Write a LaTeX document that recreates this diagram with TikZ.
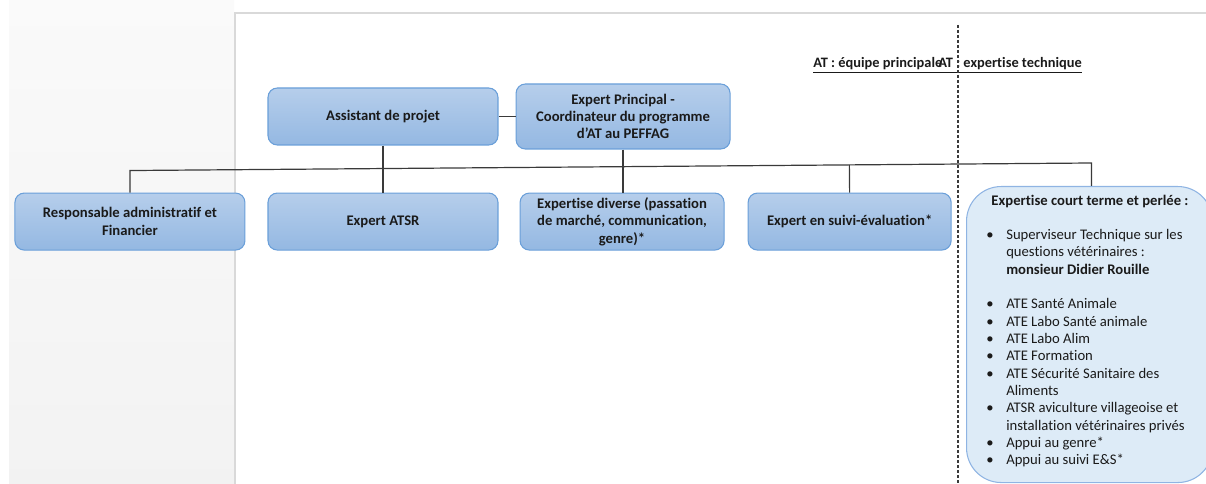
\documentclass[tikz,border=0pt]{standalone}
\usepackage{fontspec}
\setmainfont{Carlito}[Ligatures={TeX,NoCommon}]
\usetikzlibrary{shapes.geometric, calc, positioning}
\definecolor{boxtop}{HTML}{B6CEEB}
\definecolor{boxbottom}{HTML}{94B8E2}
\definecolor{boxline}{HTML}{6A9FD9}
\definecolor{courtfill}{HTML}{DDEBF7}
\definecolor{courtline}{HTML}{8FB4E3}
\definecolor{trait}{HTML}{3A3A3A}
\definecolor{cadre}{HTML}{D9D9D9}
\definecolor{encre}{HTML}{1A1A1A}
\tikzstyle{poste} = [rectangle, rounded corners=7pt, draw=boxline, line width=0.8pt, top color=boxtop, bottom color=boxbottom, minimum width=172.5pt, minimum height=42.75pt, align=center, text=encre, font=\fontsize{11}{13}\selectfont\bfseries]
\tikzstyle{courtbox} = [rectangle, rounded corners=26pt, draw=courtline, line width=0.8pt, fill=courtfill, minimum width=184.5pt, minimum height=222pt]
\tikzstyle{texte} = [inner sep=0pt, text=encre, font=\fontsize{11}{13}\selectfont]
\tikzstyle{titre} = [inner sep=0pt, text=encre, font=\fontsize{10.8}{13}\selectfont\bfseries]
\tikzstyle{lien} = [draw=trait, line width=0.9pt]
\tikzstyle{pointille} = [draw=trait, line width=0.8pt, dash pattern=on 2.25pt off 1.5pt]
\begin{document}
\begin{tikzpicture}[x=0.75pt, y=-0.75pt]
		\useasboundingbox (0,0) rectangle (1206,484);
		\clip (0,0) rectangle (1206,484);
		% fond de la page
		\fill[top color=white!98!black, bottom color=white!95!black] (9,0) rectangle (234,484);
		\draw[cadre, line width=1.5pt] (235,484) -- (235,13) -- (1206,13);

		\node (TitreEquipe) [titre, anchor=base west] at (813,68) {\underline{AT : équipe principale}};
		\node (TitreExpertise) [titre, anchor=base west] at (938,68) {\underline{AT : expertise technique}};
		\draw [pointille] (958,25) -- (958,484);

		\node (Assistant) [poste] at (383,116.5) {Assistant de projet};
		\node (Principal) [poste, right = 12.75pt of Assistant, minimum width=160.5pt, minimum height=48.75pt] {Expert Principal -\\Coordinateur du programme\\d’AT au PEFFAG};
		\node (ATSR) [poste, below = 35.25pt of Assistant] {Expert ATSR};
		\node (Responsable) [poste, left = 16.5pt of ATSR] {Responsable administratif et\\Financier};
		\node (Diverse) [poste, right = 15.75pt of ATSR, minimum width=153pt] {Expertise diverse (passation\\de marché, communication,\\genre)*};
		\node (Suivi) [poste, right = 17.25pt of Diverse, minimum width=152.25pt] {Expert en suivi-évaluation*};

		\node (Court) [courtbox, anchor=north west] at (966,186) {};
		\node (CourtTitre) [texte, font=\fontsize{11}{13}\selectfont\bfseries] at ($(Court.north west)+(124,16)$) {Expertise court terme et perlée :};
		\node (CourtListe) [texte, anchor=north west] at ($(Court.north west)+(20,41)$) {%
			\begin{tabular}{@{}p{15pt}@{}l@{}}
				\textbullet & Superviseur Technique sur les\\
				& questions vétérinaires :\\
				& \textbf{monsieur Didier Rouille}\\
				& \\
				\textbullet & ATE Santé Animale\\
				\textbullet & ATE Labo Santé animale\\
				\textbullet & ATE Labo Alim\\
				\textbullet & ATE Formation\\
				\textbullet & ATE Sécurité Sanitaire des\\
				& Aliments\\
				\textbullet & ATSR aviculture villageoise et\\
				& installation vétérinaires privés\\
				\textbullet & Appui au genre*\\
				\textbullet & Appui au suivi E\&S*
			\end{tabular}};

		\coordinate (BusG) at ($(Responsable.north)+(0,-22)$);
		\coordinate (BusD) at ($(Court.north)+(2,-23)$);
		\draw [lien] (Responsable.north) -- (BusG) -- (BusD) -- (BusD |- Court.north);
		\draw [lien] (Assistant) -- (Principal);
		\draw [lien] (Assistant.south) -- (ATSR.north);
		\draw [lien] (Principal.south) -- (Principal.south |- Diverse.north);
		\draw [lien] (Suivi.north) -- ($(BusG)!(Suivi.north)!(BusD)$);
	\end{tikzpicture}
\end{document}
